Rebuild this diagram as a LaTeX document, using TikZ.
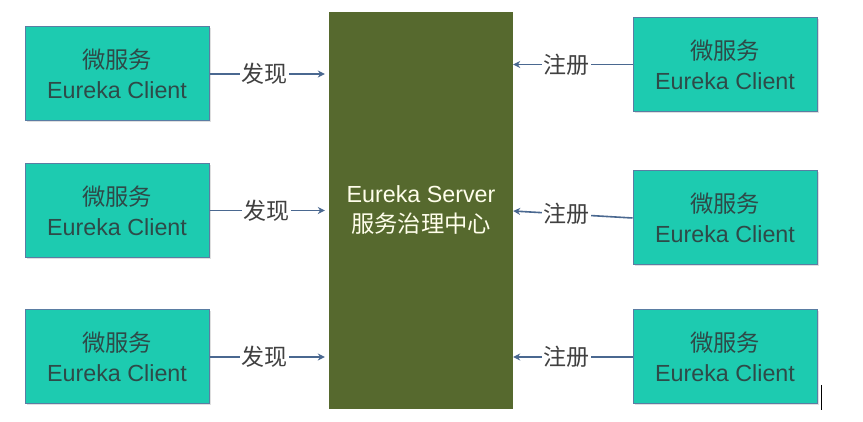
\documentclass[tikz,border=0pt]{standalone}
\usepackage{fontspec}
\setmainfont{Liberation Sans}
\newfontfamily\cjk{Noto Sans CJK SC}
\usetikzlibrary{arrows.meta,shadows}
\definecolor{clientfill}{HTML}{1DCBB0}
\definecolor{clientedge}{HTML}{5A7DA3}
\definecolor{serverfill}{HTML}{56692E}
\definecolor{arrowc}{HTML}{4A6890}
\definecolor{txt}{HTML}{2E4A48}
\begin{document}
\begin{tikzpicture}[x=1pt,y=1pt,
  client/.style={draw=clientedge, line width=1pt, fill=clientfill, minimum width=184pt, minimum height=94pt,
    align=center, text=txt, font=\fontsize{23.3}{30}\selectfont, inner sep=0pt,
    drop shadow={opacity=0.25, shadow xshift=1.5pt, shadow yshift=-1.5pt}},
  server/.style={fill=serverfill, minimum width=184pt, minimum height=397pt, align=center,
    text=white!92!yellow, font=\fontsize{23.3}{30}\selectfont, inner sep=0pt},
  conn/.style={draw=arrowc, line width=1.6pt, -{Stealth[length=7pt,width=7pt]}},
  lbl/.style={fill=white, inner sep=1.5pt, text=black!75, font=\cjk\fontsize{23}{26}\selectfont}]
\useasboundingbox[fill=white] (0,0) rectangle (863,422);
\node[server] (S) at (421,211.5) {Eureka Server\\{\cjk 服务治理中心}};
\node[client] (L1) at (117,348) {{\cjk 微服务}\\Eureka Client};
\node[client] (L2) at (117,211.5) {{\cjk 微服务}\\Eureka Client};
\node[client] (L3) at (117,65) {{\cjk 微服务}\\Eureka Client};
\node[client] (R1) at (725,357.5) {{\cjk 微服务}\\Eureka Client};
\node[client] (R2) at (725,204) {{\cjk 微服务}\\Eureka Client};
\node[client] (R3) at (725,65) {{\cjk 微服务}\\Eureka Client};
\coordinate (t2) at (S.east |- 0,211);
\draw[conn, shorten >=4pt] (L1.east) -- (L1.east -| S.west) node[lbl, pos=0.46] {发现};
\draw[conn, shorten >=4pt] (L2.east) -- (L2.east -| S.west) node[lbl, pos=0.48] {发现};
\draw[conn, shorten >=4pt] (L3.east) -- (L3.east -| S.west) node[lbl, pos=0.46] {发现};
\draw[conn] (R1.west) -- (R1.west -| S.east) node[lbl, pos=0.55] {注册};
\draw[conn] (R2.west) -- (t2) node[lbl, pos=0.55] {注册};
\draw[conn] (R3.west) -- (R3.west -| S.east) node[lbl, pos=0.55] {注册};
\draw[black, line width=0.8pt] (821,37) -- (821,12);
\end{tikzpicture}
\end{document}
